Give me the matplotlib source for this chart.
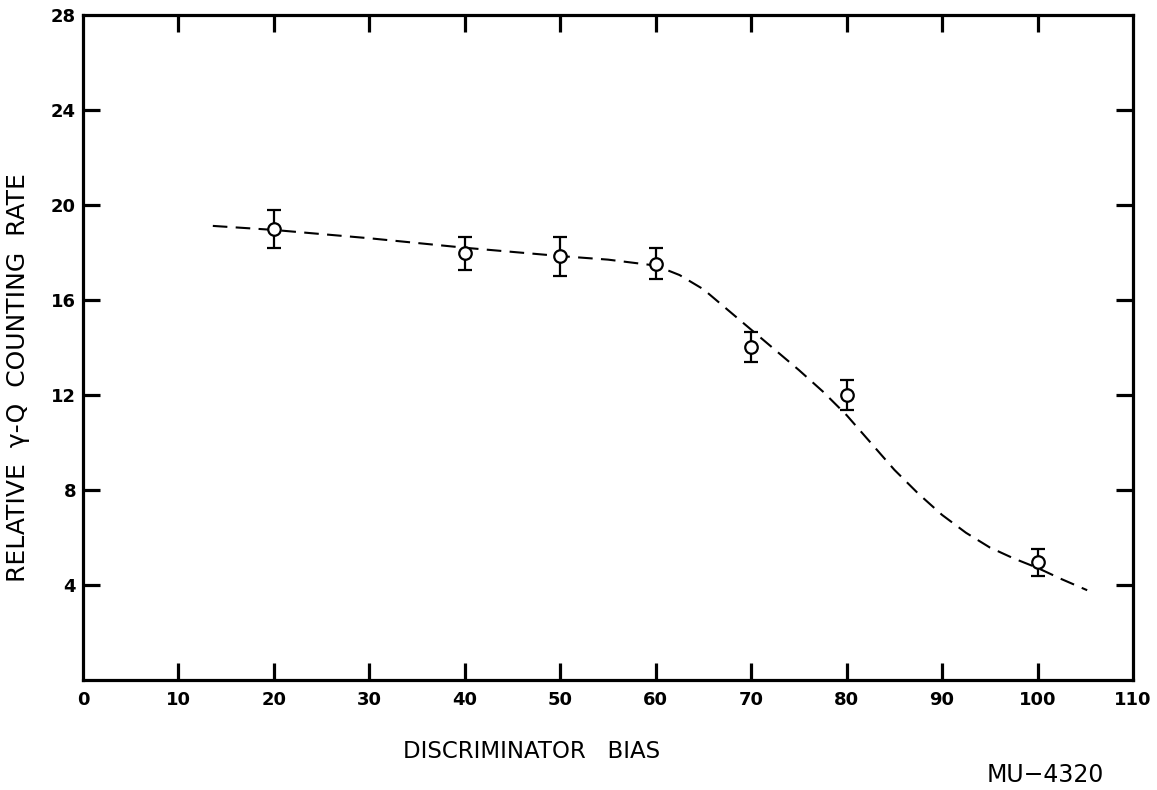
import matplotlib
matplotlib.use("Agg")
import matplotlib.pyplot as plt

# Data
bias = [20, 40, 50, 60, 70, 80, 100]
rate = [19.0, 17.96, 17.85, 17.52, 14.02, 12.0, 4.95]
rate_err = [0.8, 0.7, 0.82, 0.65, 0.62, 0.62, 0.57]

curve_x = [13.6, 20, 30, 40, 50, 55, 60, 62.5, 65, 67.5, 70, 72.5, 75, 77.5,
           80, 82.5, 85, 87.5, 90, 92.5, 95, 97.5, 100, 102.5, 105.2]
curve_y = [19.12, 18.95, 18.6, 18.2, 17.85, 17.7, 17.45, 17.05, 16.45, 15.6,
           14.75, 13.9, 13.05, 12.15, 11.15, 10.0, 8.85, 7.85, 6.95, 6.2,
           5.58, 5.12, 4.72, 4.25, 3.78]

x_ticks = [0, 10, 20, 30, 40, 50, 60, 70, 80, 90, 100, 110]
x_ticklabels = ["0", "10", "20", "30", "40", "50", "60", "70", "80", "90", "100", "110"]
y_ticks = [4, 8, 12, 16, 20, 24, 28]
y_ticklabels = ["4", "8", "12", "16", "20", "24", "28"]

plt.rcParams['font.family'] = ['DejaVu Sans']

W, H = 1157, 790
fig = plt.figure(figsize=(W / 100, H / 100), dpi=100)
ax = fig.add_axes([83 / W, 1 - 680 / H, (1133 - 83) / W, (680 - 15) / H])

ax.plot(curve_x, curve_y, color="black", lw=1.5, ls=(0, (7, 4)), zorder=2)
ax.errorbar(bias, rate, yerr=rate_err, fmt="o", ms=9, mfc="white", mec="black",
            mew=1.6, ecolor="black", elinewidth=1.6, capsize=5, capthick=1.6,
            zorder=3)

ax.set_xlim(0, 110)
ax.set_ylim(0, 28)
ax.set_xticks(x_ticks)
ax.set_xticklabels(x_ticklabels, fontsize=13, fontweight="bold")
ax.set_yticks(y_ticks)
ax.set_yticklabels(y_ticklabels, fontsize=13, fontweight="bold")

for s in ax.spines.values():
    s.set_linewidth(2.3)

ax.tick_params(axis="both", direction="in", length=12, width=2.3,
               top=True, right=True)
ax.tick_params(axis="x", pad=8)
ax.tick_params(axis="y", pad=5)

# hide ticks at the axis ends (they coincide with spines)
for t in ax.xaxis.get_major_ticks():
    if t.get_loc() in (0, 110):
        t.tick1line.set_visible(False)
        t.tick2line.set_visible(False)
for t in ax.yaxis.get_major_ticks():
    if t.get_loc() == 28:
        t.tick1line.set_visible(False)
        t.tick2line.set_visible(False)

fig.text(18 / W, 1 - 378 / H, "RELATIVE  γ-Q  COUNTING  RATE", rotation=90,
         ha="center", va="center", fontsize=18)
fig.text(532 / W, 1 - 752 / H, "DISCRIMINATOR   BIAS", ha="center",
         va="center", fontsize=16.5)
fig.text(1045 / W, 1 - 775 / H, "MU−4320", ha="center", va="center",
         fontsize=17)

fig.savefig("out.png", dpi=100)
